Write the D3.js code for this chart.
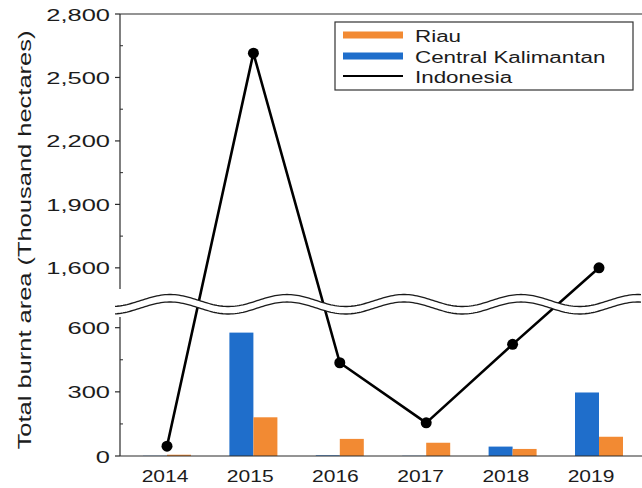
<!DOCTYPE html>
<html>
<head>
<meta charset="utf-8">
<script src="https://cdn.jsdelivr.net/npm/d3@7/dist/d3.min.js"></script>
<style>
  html, body { margin: 0; padding: 0; background: #fff; }
  svg { display: block; }
  text { font-family: "Liberation Sans", Arial, sans-serif; fill: #1c1c1c; }
</style>
</head>
<body>
<svg id="chart" width="642" height="488"></svg>
<script>
// ---- data ----
const years = ["2014", "2015", "2016", "2017", "2018", "2019"];
const riau = [6, 181, 80, 62, 33, 90];
const centralKalimantan = [1, 577, 3, 1, 44, 297];
const indonesia = [46, 2615, 436, 155, 522, 1600];
const topTicks = [1600, 1900, 2200, 2500, 2800];
const topMinorTicks = [1750, 2050, 2350, 2650];
const bottomTicks = [0, 300, 600];
const bottomMinorTicks = [150, 450];
const legendLabels = ["Riau", "Central Kalimantan", "Indonesia"];

// ---- styles / layout ----
const left = 120, right = 642;
const colors = { riau: "#f28a33", ck: "#1f6ecb", indo: "#000000" };
const axisColor = "#2a2a2a";

const svg = d3.select("#chart");

const x = d3.scalePoint().domain(years).range([167, 599]);
const xLab = d3.scalePoint().domain(years).range([165, 591]);
const sub = d3.scaleBand().domain(["ck", "riau"]).range([-24, 24]);
const yTop = d3.scaleLinear().domain([1500, 2800]).range([289, 14]);
const yBot = d3.scaleLinear().domain([0, 650]).range([456, 317]);

function yVal(v) { return v >= 1500 ? yTop(v) : yBot(v); }

// ---- bars ----
const barData = years.map((yr, i) => ({ yr, ck: centralKalimantan[i], riau: riau[i] }));
const gBars = svg.append("g");
["ck", "riau"].forEach(key => {
  gBars.selectAll("rect." + key).data(barData).join("rect")
    .attr("class", key)
    .attr("x", d => x(d.yr) + sub(key))
    .attr("width", sub.bandwidth())
    .attr("y", d => yBot(d[key]))
    .attr("height", d => yBot(0) - yBot(d[key]))
    .attr("fill", colors[key]);
});

// ---- axes ----
const gAx = svg.append("g").attr("stroke", axisColor).attr("stroke-width", 1.2).attr("fill", "none");
gAx.append("line").attr("x1", left).attr("x2", right).attr("y1", yTop(2800)).attr("y2", yTop(2800));
gAx.append("line").attr("x1", left).attr("x2", left).attr("y1", yTop(2800)).attr("y2", yTop(1500));
gAx.append("line").attr("x1", left).attr("x2", left).attr("y1", yBot(650)).attr("y2", yBot(0));
gAx.append("line").attr("x1", left).attr("x2", right).attr("y1", yBot(0)).attr("y2", yBot(0));

topTicks.forEach(t => gAx.append("line").attr("x1", left - 5).attr("x2", left).attr("y1", yTop(t)).attr("y2", yTop(t)));
bottomTicks.forEach(t => gAx.append("line").attr("x1", left - 5).attr("x2", left).attr("y1", yBot(t)).attr("y2", yBot(t)));
topMinorTicks.forEach(t => gAx.append("line").attr("x1", left).attr("x2", left + 3).attr("y1", yTop(t)).attr("y2", yTop(t)).attr("stroke-width", 1));
bottomMinorTicks.forEach(t => gAx.append("line").attr("x1", left).attr("x2", left + 3).attr("y1", yBot(t)).attr("y2", yBot(t)).attr("stroke-width", 1));

const fmt = d3.format(",");
const gLab = svg.append("g");
function yLabel(v, yy) {
  gLab.append("text")
    .attr("transform", `translate(110,${yy + 6.5}) scale(1.5,1)`)
    .attr("text-anchor", "end")
    .attr("font-size", 17)
    .text(fmt(v));
}
topTicks.forEach(t => yLabel(t, yTop(t)));
bottomTicks.forEach(t => yLabel(t, yBot(t)));

years.forEach(yr => {
  gLab.append("text")
    .attr("transform", `translate(${xLab(yr)},482) scale(1.29,1)`)
    .attr("text-anchor", "middle")
    .attr("font-size", 16.3)
    .text(yr);
});

svg.append("text")
  .attr("transform", "translate(31,240) rotate(-90) scale(1.34,1)")
  .attr("text-anchor", "middle")
  .attr("font-size", 19)
  .text("Total burnt area (Thousand hectares)");

// ---- Indonesia line ----
const lineData = years.map((yr, i) => ({ yr, v: indonesia[i] }));
const line = d3.line().x(d => x(d.yr)).y(d => yVal(d.v));
svg.append("path").datum(lineData)
  .attr("d", line)
  .attr("fill", "none")
  .attr("stroke", colors.indo)
  .attr("stroke-width", 2.6)
  .attr("stroke-linejoin", "round");

// ---- axis break (wavy band) ----
const period = 117, amp = 6, crest = 170;
const xs = d3.range(115, 643, 2);
const wave = (mid) => xs.map(xx => [xx, mid - amp * Math.cos(2 * Math.PI * (xx - crest) / period)]);
const upper = wave(300.5), lower = wave(308);
svg.append("path")
  .attr("d", d3.area().x(d => d[0]).y0((d, i) => lower[i][1]).y1(d => d[1])(upper))
  .attr("fill", "#fff");
[upper, lower].forEach(pts => {
  svg.append("path").attr("d", d3.line()(pts))
    .attr("fill", "none").attr("stroke", "#1a1a1a").attr("stroke-width", 1.3);
});

svg.selectAll("circle.dot").data(lineData).join("circle")
  .attr("class", "dot")
  .attr("cx", d => x(d.yr)).attr("cy", d => yVal(d.v))
  .attr("r", 5.5).attr("fill", colors.indo);

// ---- legend ----
const lg = svg.append("g");
lg.append("rect").attr("x", 335).attr("y", 22).attr("width", 298).attr("height", 68)
  .attr("fill", "#fff").attr("stroke", "#333").attr("stroke-width", 1.2);
const legendStyle = [
  { color: colors.riau, w: 7 },
  { color: colors.ck, w: 7 },
  { color: colors.indo, w: 2 }
];
const legY = [35, 56, 76];
legendLabels.forEach((lab, i) => {
  lg.append("line").attr("x1", 343).attr("x2", 403).attr("y1", legY[i]).attr("y2", legY[i])
    .attr("stroke", legendStyle[i].color).attr("stroke-width", legendStyle[i].w);
  lg.append("text")
    .attr("transform", `translate(415,${legY[i] + 6.5}) scale(1.4,1)`)
    .attr("font-size", 16)
    .text(lab);
});
</script>
</body>
</html>
